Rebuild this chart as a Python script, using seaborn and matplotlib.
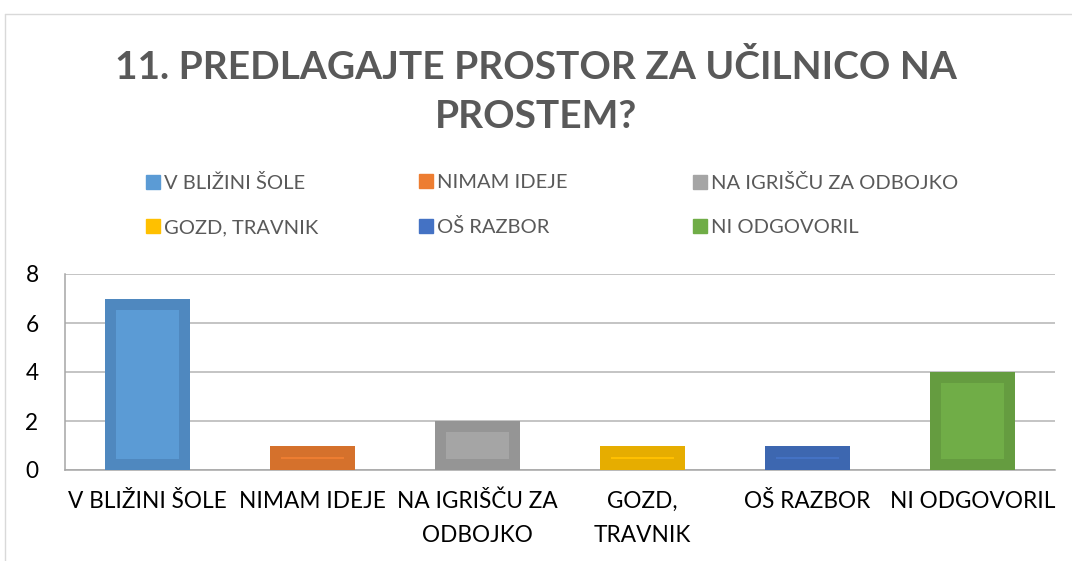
import matplotlib
matplotlib.use("Agg")
import matplotlib.pyplot as plt
from matplotlib.lines import Line2D
from matplotlib.patches import Patch
import seaborn as sns
import numpy as np

categories = ["V BLIŽINI ŠOLE", "NIMAM IDEJE", "NA IGRIŠČU ZA ODBOJKO",
              "GOZD, TRAVNIK", "OŠ RAZBOR", "NI ODGOVORIL"]
tick_labels = ["V BLIŽINI ŠOLE", "NIMAM IDEJE", "NA IGRIŠČU ZA\nODBOJKO",
               "GOZD,\nTRAVNIK", "OŠ RAZBOR", "NI ODGOVORIL"]
counts = [7, 1, 2, 1, 1, 4]
fill_colors = ["#5B9BD5", "#ED7D31", "#A5A5A5", "#FFC000", "#4472C4", "#70AD47"]
edge_colors = ["#4F88BF", "#D5712C", "#959595", "#E6AD00", "#3D67B0", "#659C40"]

sns.set_style("white")
plt.rcParams["font.family"] = ["Lato", "DejaVu Sans"]

fig = plt.figure(figsize=(10.72, 5.61), dpi=100)
ax = fig.add_axes([65 / 1072, 91 / 561, 990 / 1072, 196 / 561])

sns.barplot(x=categories, y=counts, hue=categories, palette=fill_colors,
            saturation=1, width=0.51, legend=False, ax=ax, zorder=3)

# excel-like inner border: thick edge clipped to the bar itself
for p, ec in zip(ax.patches, edge_colors):
    p.set_edgecolor(ec)
    p.set_linewidth(15.8)
    p.set_clip_path(p)

ax.set_xlim(-0.5, len(categories) - 0.5)
ax.set_ylim(0, 8)
ax.set_yticks([0, 2, 4, 6, 8])
ax.yaxis.grid(True, color="#B4B4B4", linewidth=1.1, zorder=0)
ax.set_axisbelow(True)

ax.set_xticks(range(len(categories)))
ax.set_xticklabels(tick_labels, fontsize=16.3, color="black", linespacing=1.75)
ax.set_xticks(np.arange(-0.5, len(categories)), minor=True)
ax.tick_params(axis="x", which="major", length=0, pad=15)
ax.tick_params(axis="x", which="minor", length=6, width=1.1, color="#A6A6A6")
ax.tick_params(axis="y", length=6, width=1.1, color="#A6A6A6", labelsize=16.3,
               labelcolor="black", pad=13)

for side in ["top", "right"]:
    ax.spines[side].set_visible(False)
for side in ["left", "bottom"]:
    ax.spines[side].set_color("#A6A6A6")
    ax.spines[side].set_linewidth(1.1)

ax.set_xlabel("")
ax.set_ylabel("")

fig.text(0.5, 1 - 128 / 561, "11. PREDLAGAJTE PROSTOR ZA UČILNICO NA\nPROSTEM?",
         ha="center", va="baseline", fontsize=28, fontweight="bold",
         color="#595959", linespacing=1.48)

# legend: three equal-width columns, two rows
handles = [Patch(facecolor=c, edgecolor=c) for c in fill_colors]
col_x = [146, 419, 693]
for col, x in enumerate(col_x):
    idx = [col, col + 3]
    fig.legend([handles[i] for i in idx], [categories[i] for i in idx],
               loc="center left", bbox_to_anchor=(x / 1072, 1 - 205 / 561),
               frameon=False, fontsize=14.5, labelcolor="#595959",
               handlelength=0.7, handleheight=0.7, handletextpad=0.2,
               labelspacing=1.35, borderpad=0, borderaxespad=0)

# outer chart frame
fig.add_artist(Line2D([4.5 / 1072, 4.5 / 1072], [0, 1 - 14 / 561],
                      transform=fig.transFigure, color="#D9D9D9", linewidth=1))
fig.add_artist(Line2D([4.5 / 1072, 1], [1 - 14 / 561, 1 - 14 / 561],
                      transform=fig.transFigure, color="#D9D9D9", linewidth=1))

fig.savefig("out.png", dpi=100)
